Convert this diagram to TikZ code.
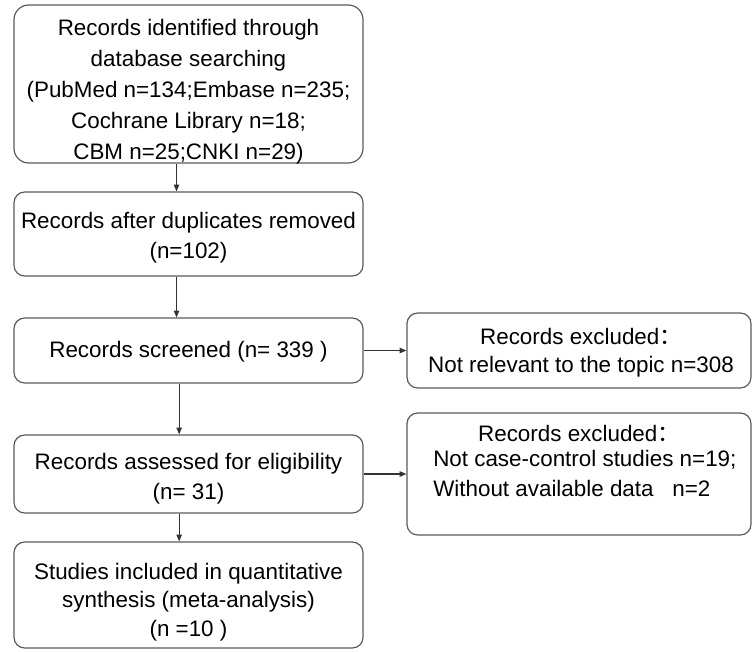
\documentclass[tikz,border=0pt]{standalone}
\usepackage{fontspec}
\setmainfont{Liberation Sans}
\newfontfamily\cjk{Noto Sans CJK SC}
\usetikzlibrary{arrows.meta}
\definecolor{boxgray}{HTML}{5A5A5A}
\definecolor{linegray}{HTML}{333333}
\begin{document}
\begin{tikzpicture}[x=0.75pt,y=-0.75pt,
 box/.style={draw=boxgray, line width=0.9pt, rounded corners=8pt, inner sep=0pt, minimum width=261.75pt},
 rbox/.style={box, minimum width=258pt},
 txt/.style={inner sep=0pt, align=center, text=black, font=\fontsize{16.8}{22.5}\selectfont},
 arr/.style={draw=linegray, line width=0.8pt, -{Triangle[length=5pt,width=4pt]}}]
\useasboundingbox (0,0) rectangle (752,651);
% boxes
\node[box, rounded corners=11pt, minimum height=118.5pt] (b1) at (188.5,84) {};
\node[box, minimum height=63pt] (b2) at (188.5,234) {};
\node[box, minimum height=48.75pt] (b3) at (188.5,350.5) {};
\node[box, minimum height=58.5pt] (b4) at (188.5,474) {};
\node[box, minimum height=79.5pt] (b5) at (188.5,595) {};
\node[rbox, minimum height=56.25pt] (r1) at (579,350.5) {};
\node[rbox, minimum height=91.5pt] (r2) at (579,474) {};
% texts
\node[txt, font=\fontsize{16.8}{23.25}\selectfont] (b1t) at (188.5,92)
  {Records identified through\\database searching\\(PubMed n=134;Embase n=235;\\Cochrane Library n=18;\\CBM n=25;CNKI n=29)};
\node[txt] (b2t) at (188.5,238) {Records after duplicates removed\\(n=102)};
\node[txt] (b3t) at (188.5,352) {Records screened (n= 339 )};
\node[txt] (b4t) at (188.5,479) {Records assessed for eligibility\\(n= 31)};
\node[txt, font=\fontsize{16.8}{21.5}\selectfont] (b5t) at (188.5,602) {Studies included in quantitative\\synthesis (meta-analysis)\\(n =10 )};
\node[txt, font=\fontsize{16.8}{21}\selectfont] (r1t) at (581,353) {Records excluded{\cjk ：}\\Not relevant to the topic n=308};
\node[txt] (r2a) at (579,433) {Records excluded{\cjk ：}};
\node[txt, anchor=west] (r2b) at (433,460) {Not case-control studies n=19;};
\node[txt, anchor=west] (r2c) at (433,488) {Without available data\ \ \ n=2};
% connectors
\draw[arr] ([xshift=-9pt]b1.south) -- ([xshift=-9pt]b2.north);
\draw[arr] ([xshift=-9pt]b2.south) -- ([xshift=-9pt]b3.north);
\draw[arr] ([xshift=-7pt]b3.south) -- ([xshift=-7pt]b4.north);
\draw[arr] ([xshift=-7pt]b4.south) -- ([xshift=-7pt]b5.north);
\draw[arr] (b3.east) -- (r1.west);
\draw[arr] (b4.east) -- (r2.west);
\end{tikzpicture}
\end{document}
